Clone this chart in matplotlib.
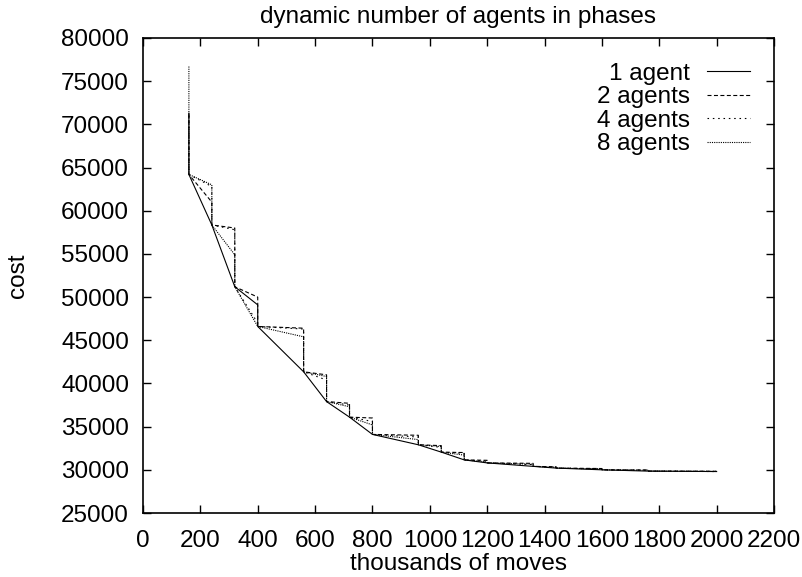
import matplotlib
matplotlib.use("Agg")
import matplotlib.pyplot as plt

plt.rcParams["font.family"] = ["Liberation Sans", "DejaVu Sans"]

# phase boundaries (thousands of moves) and best cost at the start of each phase
phase_x = [160, 240, 320, 400, 560, 640, 720, 800, 960, 1040, 1120, 1200, 1360, 1440, 1600, 1760, 2000]
phase_start = [64200, 58350, 51200, 46600, 41350, 37900, 36100, 34100, 32900, 32050,
               31150, 30800, 30400, 30200, 30000, 29850]

# initial cost of each run
initial_cost = {"1 agent": 71300, "2 agents": 71200, "4 agents": 71000, "8 agents": 76700}

# cost reached at the end of each phase
one_agent_end = [58350, 51200, 49100, 41350, 37900, 36100, 34100, 32900, 32050, 31150,
                 30800, 30400, 30200, 30000, 29850, 29800]
two_agents_end = [61000, 58000, 50000, 46400, 41000, 37700, 36000, 34000, 32800, 32000,
                  31100, 30750, 30350, 30150, 29980, 29830]
four_agents_end = [62800, 57800, 47000, 46300, 40400, 37500, 35600, 33800, 32600, 31900,
                   31000, 30600, 30300, 30100, 29950, 29800]
eight_agents_end = [63000, 54900, 46600, 45400, 40800, 37300, 35200, 33500, 32700, 31700,
                    30900, 30650, 30300, 30100, 29950, 29820]

x_ticks = list(range(0, 2201, 200))
y_ticks = list(range(25000, 80001, 5000))


def build_path(init, ends):
    xs = [phase_x[0], phase_x[0]]
    ys = [init, phase_start[0]]
    for i, end in enumerate(ends):
        xs.append(phase_x[i + 1])
        ys.append(end)
        if i + 1 < len(phase_start):
            xs.append(phase_x[i + 1])
            ys.append(phase_start[i + 1])
    return xs, ys


series = [
    ("1 agent", one_agent_end, "-"),
    ("2 agents", two_agents_end, (0, (3.6, 2.2))),
    ("4 agents", four_agents_end, (0, (1.4, 3.4))),
    ("8 agents", eight_agents_end, (0, (1.0, 1.0))),
]

fig = plt.figure(figsize=(8.03, 5.77), dpi=100)
ax = fig.add_axes([143 / 803, 1 - 513 / 577, 631 / 803, 475 / 577])

for name, ends, style in series:
    xs, ys = build_path(initial_cost[name], ends)
    ax.plot(xs, ys, color="black", linestyle=style, linewidth=0.8, label=name)

fs = 17.5
ax.set_xlim(0, 2200)
ax.set_ylim(25000, 80000)
ax.set_xticks(x_ticks)
ax.set_yticks(y_ticks)
ax.tick_params(direction="in", length=6, width=1, top=True, right=True, labelsize=fs)
ax.tick_params(axis="x", pad=12)
ax.tick_params(axis="y", pad=10)
for s in ax.spines.values():
    s.set_linewidth(1.2)

ax.set_xlabel("thousands of moves", fontsize=fs, labelpad=1)
ax.set_ylabel("cost", fontsize=fs, labelpad=23)
ax.set_title("dynamic number of agents in phases", fontsize=fs, pad=11)

ax.legend(loc="upper right", bbox_to_anchor=(0.962, 0.948), frameon=False,
          markerfirst=False, alignment="right", fontsize=fs, handlelength=1.77,
          handletextpad=0.7, labelspacing=0.06, borderpad=0, borderaxespad=0)

fig.savefig("out.png", dpi=100)
